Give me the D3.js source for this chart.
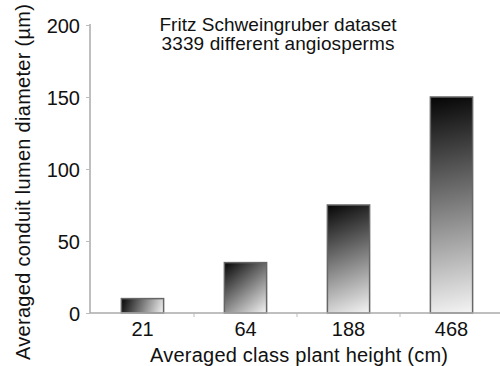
<!DOCTYPE html>
<html lang="en">
<head>
<meta charset="utf-8" />
<title>conduit diameter</title>
<script src="https://d3js.org/d3.v7.min.js"></script>
<style>
  body { margin:0; background:#fff; }
  text { font-family: "Liberation Sans", Arial, sans-serif; fill:#111; }
</style>
</head>
<body>
<div id="myDiv"></div>
<script>
// plant height classes (cm) and mean conduit diameters (um)
var heightClasses = ["21", "64", "188", "468"];
var diameters = [10, 35, 75, 150];
var yTicks = [0, 50, 100, 150, 200];

var width = 500, height = 366;

var svg = d3.select("#myDiv").append("svg")
    .attr("width", width)
    .attr("height", height);

var yScale = d3.scaleLinear().domain([0, 200]).range([313, 25]);
var xScale = d3.scaleBand()
    .domain(heightClasses)
    .range([91, 503])
    .paddingInner(0.59)
    .paddingOuter(0.295);

// one diagonal gradient per bar, corner to corner
var defs = svg.append("defs");
heightClasses.forEach(function(c, i){
  var x = xScale(c), y = yScale(diameters[i]);
  var g = defs.append("linearGradient")
      .attr("id", "grad" + i)
      .attr("gradientUnits", "userSpaceOnUse")
      .attr("x1", x).attr("y1", y)
      .attr("x2", x + xScale.bandwidth()).attr("y2", yScale(0));
  g.append("stop").attr("offset", "0%").attr("stop-color", "#050505");
  g.append("stop").attr("offset", "100%").attr("stop-color", "#f4f4f4");
});

// y axis
var yAxis = svg.append("g")
    .attr("transform", "translate(90,0)")
    .call(d3.axisLeft(yScale).tickValues(yTicks).tickSize(4).tickPadding(6));
yAxis.select(".domain").attr("stroke", "#aaa").attr("stroke-width", 1.5)
    .attr("d", "M0," + yScale(0) + "V" + (yScale(200) - 1));
yAxis.selectAll(".tick line").attr("stroke", "#bbb");
yAxis.selectAll(".tick text").style("font-size", "20px").attr("dy", "0.35em");

// bars
svg.selectAll("rect.bar")
    .data(diameters)
    .enter()
    .append("rect")
    .attr("class", "bar")
    .attr("x", function(d, i){ return xScale(heightClasses[i]); })
    .attr("y", function(d){ return yScale(d); })
    .attr("width", xScale.bandwidth())
    .attr("height", function(d){ return yScale(0) - yScale(d); })
    .attr("fill", function(d, i){ return "url(#grad" + i + ")"; })
    .attr("stroke", "#666")
    .attr("stroke-width", 1.5);

// x axis
var xAxis = svg.append("g")
    .attr("transform", "translate(0," + yScale(0) + ")")
    .call(d3.axisBottom(xScale).tickSize(0).tickPadding(9));
xAxis.select(".domain").attr("stroke", "#aaa").attr("stroke-width", 1.5)
    .attr("d", "M90,0H500");
xAxis.selectAll(".tick text").style("font-size", "20px");

// small ticks between the categories
var step = xScale.step();
xAxis.selectAll("line.sep")
    .data(heightClasses.slice(1))
    .enter()
    .append("line")
    .attr("class", "sep")
    .attr("x1", function(c){ return xScale(c) + xScale.bandwidth() / 2 - step / 2; })
    .attr("x2", function(c){ return xScale(c) + xScale.bandwidth() / 2 - step / 2; })
    .attr("y1", 0).attr("y2", 4)
    .attr("stroke", "#bbb");

// title lines
svg.append("text").attr("x", 278).attr("y", 30.5)
    .attr("text-anchor", "middle").style("font-size", "19px")
    .attr("textLength", 237).attr("lengthAdjust", "spacing")
    .text("Fritz Schweingruber dataset");
svg.append("text").attr("x", 278).attr("y", 49.5)
    .attr("text-anchor", "middle").style("font-size", "19px")
    .attr("textLength", 233).attr("lengthAdjust", "spacing")
    .text("3339 different angiosperms");

// axis titles
svg.append("text").attr("x", 299).attr("y", 362)
    .attr("text-anchor", "middle").style("font-size", "20px")
    .attr("textLength", 298).attr("lengthAdjust", "spacing")
    .text("Averaged class plant height (cm)");
svg.append("text")
    .attr("transform", "translate(30,182) rotate(-90)")
    .attr("text-anchor", "middle").style("font-size", "20px")
    .attr("textLength", 356).attr("lengthAdjust", "spacing")
    .text("Averaged conduit lumen diameter (µm)");
</script>
</body>
</html>
